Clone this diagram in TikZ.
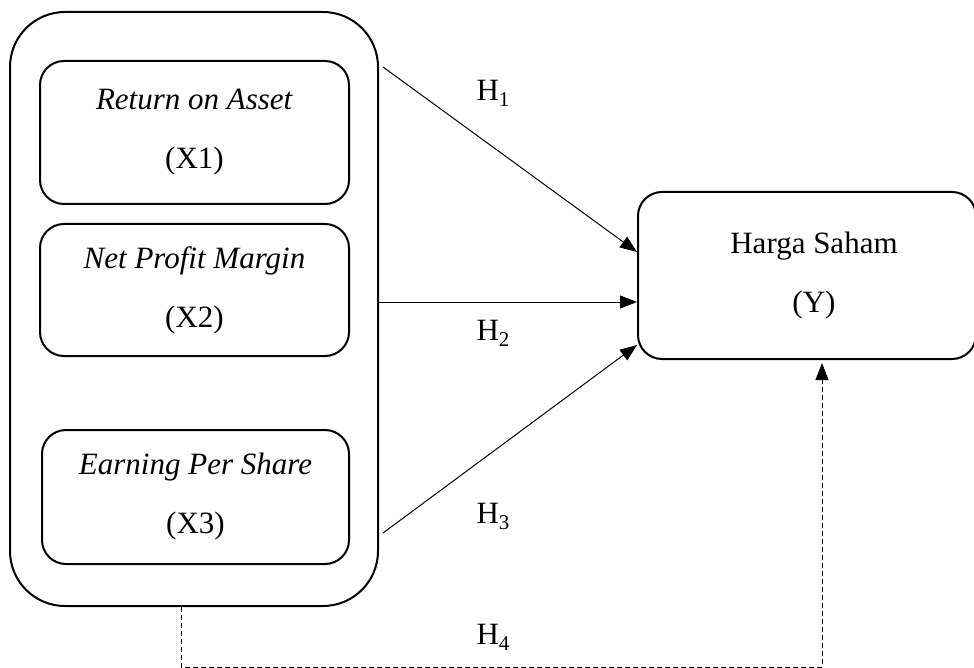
\documentclass[tikz,border=0pt]{standalone}
\usepackage{fontspec}
\setmainfont{Liberation Serif}
\usetikzlibrary{arrows.meta,calc}
\newcommand{\hsub}[1]{\raisebox{-6pt}{\fontsize{21}{21}\selectfont #1}}
\tikzset{
  box/.style={draw, line width=2pt, rounded corners=24pt, align=center, inner sep=0pt,
    font=\fontsize{31}{59}\selectfont},
  outerbox/.style={draw, line width=2pt, rounded corners=55pt, inner sep=0pt},
  link/.style={line width=1pt, -{Triangle[length=17pt,width=13pt]}},
  dlink/.style={line width=1pt, dashed, dash pattern=on 5pt off 3pt, -{Triangle[length=17pt,width=13pt]}},
  hlab/.style={font=\fontsize{31}{33}\selectfont, inner sep=0pt}
}
\begin{document}
\begin{tikzpicture}[x=1pt,y=-1pt]
\useasboundingbox (0,0) rectangle (974,668);
\node[outerbox, minimum width=368pt, minimum height=594pt] (outer) at (194,309) {};
\node[box, minimum width=309pt, minimum height=143pt] (x1) at (194.5,132.5) {\textit{Return on Asset}\\(X1)};
\node[box, minimum width=309pt, minimum height=132pt] (x2) at (194.5,290) {\textit{Net Profit Margin}\\(X2)};
\node[box, minimum width=307pt, minimum height=134pt] (x3) at (195.5,497) {\textit{Earning Per Share}\\(X3)};
\node[box, minimum width=338pt, minimum height=167pt] (y) at (807,275.5) {\hspace*{14pt}Harga Saham\\\hspace*{14pt}(Y)};
\coordinate (s1) at ($(outer.north east)+(4,56)$);
\coordinate (s3) at ($(outer.north east)+(4,522)$);
\draw[link] (s1) -- (y.west |- 0,252);
\draw[link] (outer.east |- 0,302) -- (y.west |- 0,302);
\draw[link] (s3) -- (y.west |- 0,345);
\coordinate (d1) at (181,667);
\coordinate (d2) at (822,667);
\draw[dlink] (outer.south -| d1) -- (d1) -- (d2) -- ($(y.south -| d2)+(0,3)$);
\node[hlab] (h1) at (493,93) {H\hsub{1}};
\node[hlab] (h2) at (493,333) {H\hsub{2}};
\node[hlab] (h3) at (493,516) {H\hsub{3}};
\node[hlab] (h4) at (493,637) {H\hsub{4}};
\end{tikzpicture}
\end{document}
